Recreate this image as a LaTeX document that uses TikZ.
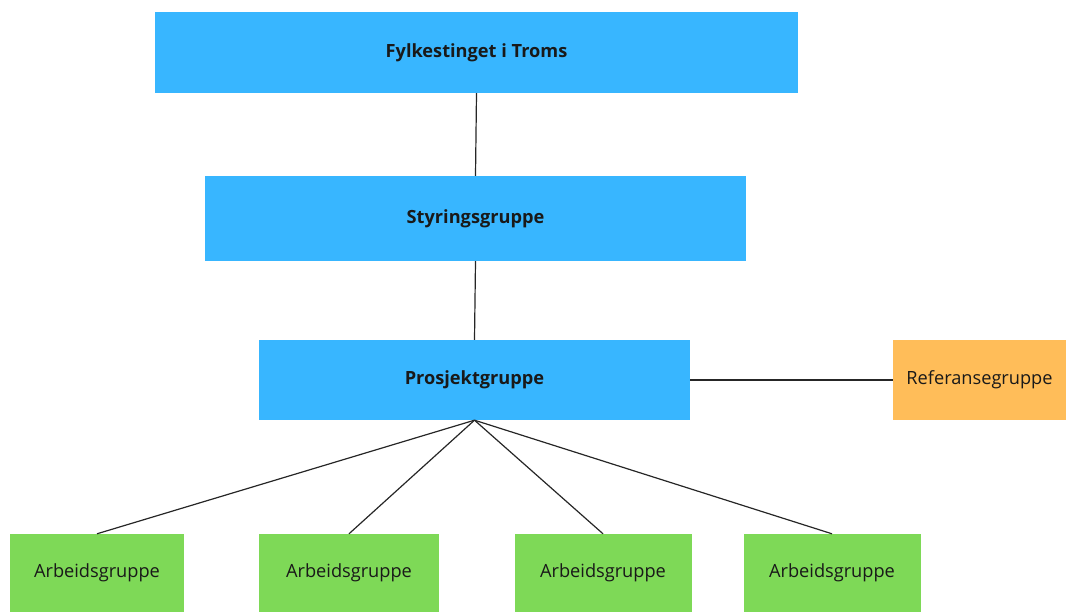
\documentclass[tikz,border=0pt]{standalone}
\usepackage{fontspec}
\setmainfont{Open Sans}
\usetikzlibrary{positioning}

\definecolor{boxblue}{HTML}{38B6FF}
\definecolor{boxorange}{HTML}{FFBD59}
\definecolor{boxgreen}{HTML}{7ED957}

\begin{document}
\begin{tikzpicture}[
        x=1pt, y=1pt,
        every node/.style={rectangle, inner sep=0pt, text=black!90, font=\fontsize{18.2}{21}\selectfont},
        line/.style={line width=1.2pt, black!85}
    ]

    \tikzset{
    lead/.style={fill=boxblue, font=\fontsize{18.2}{21}\selectfont\bfseries, minimum height=81pt},
    ref/.style={fill=boxorange, minimum width=173pt, minimum height=80pt},
    work/.style={fill=boxgreen, minimum width=177pt, minimum height=78pt}
}

    \useasboundingbox (0,0) rectangle (1066,612);

    \node[lead, minimum width=643pt] (F) at (476.5,559.5) {Fylkestinget i Troms};
    \node[lead, minimum width=541pt, minimum height=85pt] (S) at (475.5,393.5) {Styringsgruppe};
    \node[lead, minimum width=431pt, minimum height=80pt] (P) at (474.5,232) {Prosjektgruppe};
    \node[ref] (R) at (979.5,232) {Referansegruppe};

    \node[work, minimum width=174pt] (A1) at (97,39) {Arbeidsgruppe};
    \node[work, minimum width=180pt] (A2) at (349,39) {Arbeidsgruppe};
    \node[work] (A3) at (603,39) {Arbeidsgruppe};
    \node[work] (A4) at (832,39) {Arbeidsgruppe};

    \draw[line] (F.south) -- (S.north);
    \draw[line] (S.south) -- (P.north);
    \draw[line] (P.east) -- (R.west);

    \draw[line] (P.south) -- (A1.north);
    \draw[line] (P.south) -- (A2.north);
    \draw[line] (P.south) -- (A3.north);
    \draw[line] (P.south) -- (A4.north);
    \end{tikzpicture}
\end{document}
